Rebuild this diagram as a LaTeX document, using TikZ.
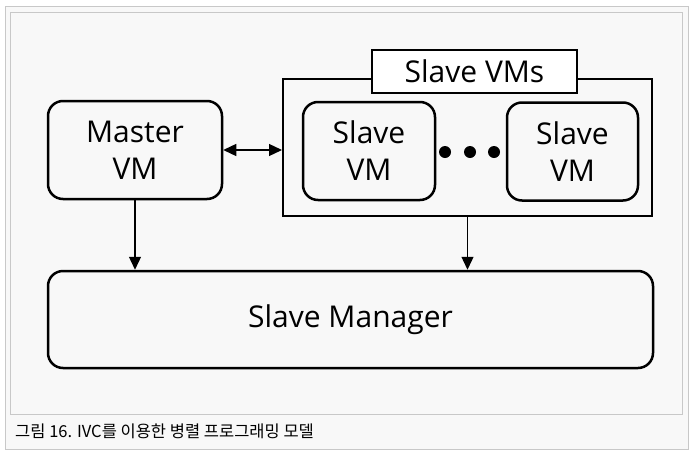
\documentclass[tikz,border=0pt]{standalone}
\usepackage{fontspec}
\setmainfont{Open Sans}
\newfontfamily\krfont{Noto Sans CJK KR}
\usetikzlibrary{arrows.meta}
\definecolor{bgc}{HTML}{F8F8F8}
\definecolor{frc}{HTML}{C8C8C8}
\tikzset{
  vmbox/.style={draw=black, line width=2.5pt, rounded corners=15pt, fill=bgc, align=center,
    inner sep=0pt, font=\fontsize{30}{37}\selectfont},
  contbox/.style={draw=black, line width=2pt, fill=bgc, inner sep=0pt},
  labbox/.style={draw=black, line width=2pt, fill=white, inner sep=0pt, font=\fontsize{30}{34}\selectfont},
  conn/.style={line width=1.3pt, -{Triangle[length=13pt,width=12pt]}},
  dconn/.style={line width=1.3pt, {Triangle[length=13pt,width=12pt]}-{Triangle[length=13pt,width=12pt]}},
  dot/.style={circle, fill=black, inner sep=0pt, minimum size=12pt}
}
\begin{document}
\begin{tikzpicture}[x=1pt,y=-1pt]
\useasboundingbox (0,0) rectangle (691,453);
\fill[white] (0,0) rectangle (691,453);
\draw[frc, fill=bgc, line width=1pt] (5,6.5) rectangle (688,449);
\draw[frc, line width=1pt] (10.5,12.5) rectangle (682,414);
\node[contbox, minimum width=369pt, minimum height=137pt] (cont) at (467.5,147.5) {};
\node[labbox, minimum width=205pt, minimum height=43pt] (lab) at (474.5,71.5) {Slave VMs};
\node[vmbox, minimum width=174pt, minimum height=98pt] (master) at (135,150) {Master\\VM};
\node[vmbox, minimum width=132pt, minimum height=98pt] (s1) at (369,151) {Slave\\VM};
\node[vmbox, minimum width=131pt, minimum height=98pt] (s2) at (572.5,151.5) {Slave\\VM};
\node[vmbox, minimum width=605pt, minimum height=97pt] (mgr) at (350.5,319.5) {Slave Manager};
\node[dot] (d1) at (445,152) {};
\node[dot] (d2) at (470,152) {};
\node[dot] (d3) at (494,152) {};
\draw[dconn] (master.east) -- (cont.west |- master.east);
\draw[conn] (master.south) -- (master.south |- mgr.north);
\draw[conn] (cont.south) -- (cont.south |- mgr.north);
\node[anchor=base west, inner sep=0pt, font=\krfont\fontsize{16.5}{18}\selectfont] (cap) at (15,437) {그림 16. IVC를 이용한 병렬 프로그래밍 모델};
\end{tikzpicture}
\end{document}
